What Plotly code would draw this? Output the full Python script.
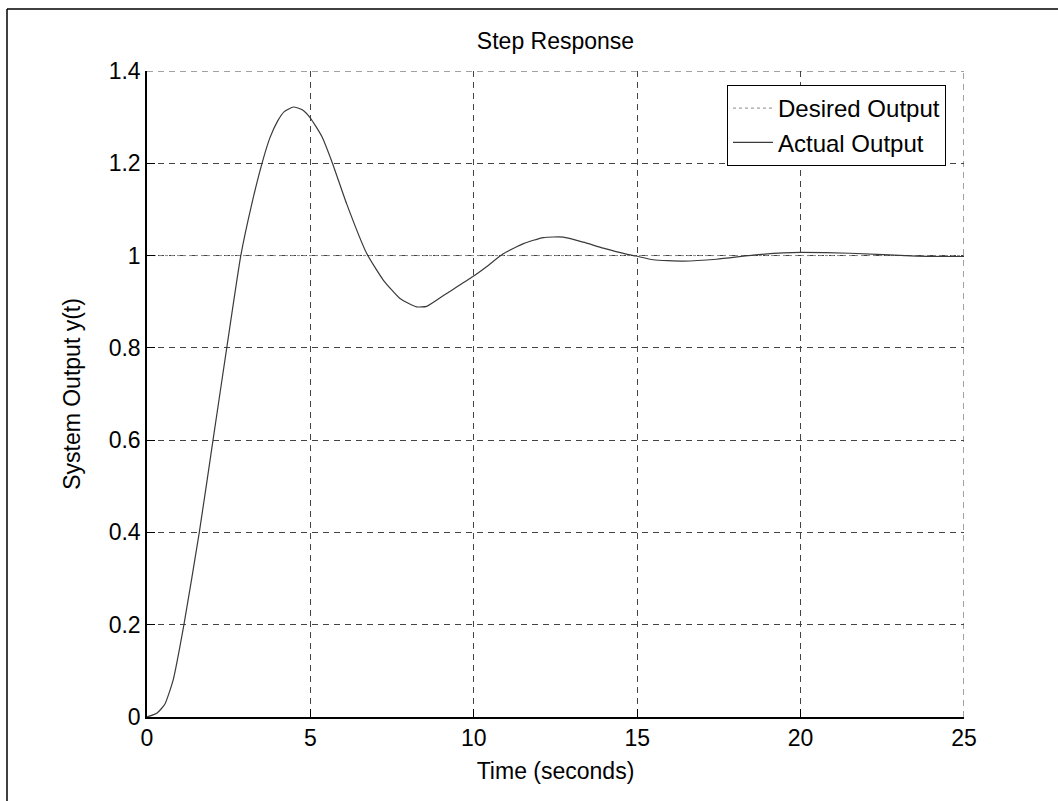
import plotly.graph_objects as go

# ---- data ----
time_s = [0, 0.3, 0.54, 0.8, 1.13, 1.6, 2.02, 2.44, 2.87, 3.2, 3.52, 3.76, 4.0, 4.2, 4.48,
          4.75, 5.0, 5.35, 5.65, 6.11, 6.72, 7.23, 7.74, 8.25, 8.56, 9.17, 9.96, 10.39,
          10.9, 11.52, 12.13, 12.74, 13.35, 13.96, 14.67, 14.96, 15.49, 16.41, 17.43,
          18.55, 19.47, 20.0, 21.51, 23.55, 25]
actual_output = [0, 0.008, 0.027, 0.08, 0.2, 0.4, 0.6, 0.8, 1.0, 1.11, 1.2, 1.255, 1.292,
                 1.312, 1.322, 1.316, 1.298, 1.258, 1.205, 1.112, 1.005, 0.947, 0.907, 0.889,
                 0.890, 0.918, 0.954, 0.976, 1.004, 1.026, 1.039, 1.040, 1.029, 1.016, 1.003,
                 0.999, 0.991, 0.988, 0.992, 1.001, 1.006, 1.007, 1.005, 0.999, 0.998]
desired_time = [0, 25]
desired_output = [1, 1]

x_ticks = [0, 5, 10, 15, 20, 25]
y_ticks = [0, 0.2, 0.4, 0.6, 0.8, 1.0, 1.2, 1.4]

W, H = 1058, 801
L, R, T, B = 147, 94, 71, 84
pw, ph = W - L - R, H - T - B

def px_x(p):
    return (p - L) / pw

def px_y(p):
    return (H - B - p) / ph

FONT = "Liberation Sans, Arial, sans-serif"
FS = 23
GRID = dict(color="#444", width=1, dash="6px,5px")

fig = go.Figure()
fig.add_trace(go.Scatter(x=desired_time, y=desired_output, mode="lines",
                         name="Desired Output",
                         line=dict(color="#8a8a8a", width=1, dash="dot")))
fig.add_trace(go.Scatter(x=time_s, y=actual_output, mode="lines",
                         name="Actual Output", line_shape="spline",
                         line=dict(color="#3a3a3a", width=1.2, smoothing=0.5)))

axis_common = dict(showgrid=True, gridcolor=GRID["color"], gridwidth=1, griddash=GRID["dash"],
                   showline=True, linecolor="black", linewidth=1.5,
                   ticks="inside", ticklen=8, tickcolor="black",
                   zeroline=False, tickfont=dict(size=FS, color="black", family=FONT))

fig.update_xaxes(range=[x_ticks[0], x_ticks[-1]], tickvals=x_ticks,
                 title=dict(text="Time (seconds)", font=dict(size=FS, color="black", family=FONT), standoff=13),
                 **axis_common)
fig.update_yaxes(range=[y_ticks[0], y_ticks[-1]], tickvals=y_ticks,
                 title=dict(text="System Output y(t)", font=dict(size=FS, color="black", family=FONT), standoff=22),
                 **axis_common)

# dashed grid lines at the top and right edges (the reference has no solid box there)
fig.add_shape(type="line", xref="x", yref="y", layer="below",
              x0=x_ticks[0], x1=x_ticks[-1], y0=y_ticks[-1], y1=y_ticks[-1], line=GRID)
fig.add_shape(type="line", xref="x", yref="y", layer="below",
              x0=x_ticks[-1], x1=x_ticks[-1], y0=y_ticks[0], y1=y_ticks[-1], line=GRID)

fig.update_layout(
    width=W, height=H,
    margin=dict(l=L, r=R, t=T, b=B),
    paper_bgcolor="white", plot_bgcolor="white",
    font=dict(family=FONT, color="black"),
    title=dict(text="Step Response", x=0.5, xref="paper", xanchor="center",
               y=1 - 41 / H, yanchor="middle",
               font=dict(size=FS, color="black", family=FONT)),
    legend=dict(x=px_x(946), y=px_y(85), xanchor="right", yanchor="top",
                bordercolor="black", borderwidth=1, bgcolor="white",
                font=dict(size=24, color="black", family=FONT),
                itemwidth=40),
    showlegend=True,
)

# outer figure frame (top and left edges visible in the reference)
fig.add_shape(type="line", xref="paper", yref="paper",
              x0=px_x(7), x1=px_x(W + 2), y0=px_y(9), y1=px_y(9),
              line=dict(color="black", width=1.5))
fig.add_shape(type="line", xref="paper", yref="paper",
              x0=px_x(7), x1=px_x(7), y0=px_y(9), y1=px_y(H + 2),
              line=dict(color="black", width=1.5))

fig.write_html("out.html")
